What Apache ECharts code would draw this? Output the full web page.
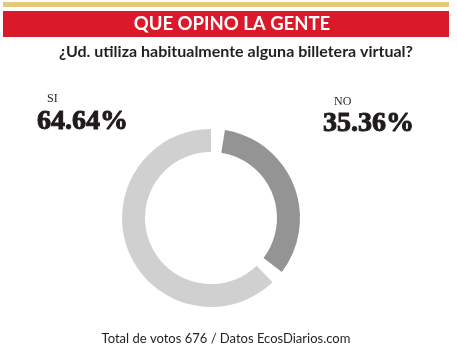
<!DOCTYPE html>
<html>
<head>
<meta charset="utf-8">
<script src="https://cdn.jsdelivr.net/npm/echarts@6/dist/echarts.min.js"></script>
<style>
html,body{margin:0;padding:0;background:#fff;}
#chart{width:457px;height:356px;}
</style>
</head>
<body>
<div id="chart"></div>
<script>
const headerTitle = 'QUE OPINO LA GENTE';
const question = '¿Ud. utiliza habitualmente alguna billetera virtual?';
const footer = 'Total de votos 676 / Datos EcosDiarios.com';
const categories = ['NO', 'SI'];
const values = [35.36, 64.64];
const colors = ['#949494', '#d0d0d0'];

const chart = echarts.init(document.getElementById('chart'));
const pct = v => v.toFixed(2) + '%';
const serif = '"Liberation Serif", serif';
const sans = 'Lato';
const txt = (x, y, text, size, weight, family, fill, align, stroke) => ({
  type: 'text', x: x, y: y,
  style: Object.assign({ text: text, fill: fill || '#231f20', fontSize: size, fontWeight: weight, fontFamily: family, textAlign: align || 'left', textVerticalAlign: 'middle' },
    stroke ? { stroke: fill || '#231f20', lineWidth: stroke } : {})
});

chart.setOption({
  animation: false,
  backgroundColor: '#ffffff',
  graphic: [
    { type: 'rect', shape: { x: 3, y: 2, width: 446, height: 5 }, style: { fill: '#e3c978' } },
    { type: 'rect', shape: { x: 3, y: 11, width: 446, height: 26 }, style: { fill: '#da1a2b' } },
    txt(232, 24, headerTitle, 18.5, 'bold', sans, '#ffffff', 'center'),
    txt(236, 52, question, 16, 'bold', sans, '#231f20', 'center'),
    txt(47, 99, categories[1], 12, 'normal', serif),
    txt(37, 122, pct(values[1]), 28, 'bold', serif, '#1f1b1c', 'left', 1),
    txt(334, 102, categories[0], 12, 'normal', serif),
    txt(323, 124, pct(values[0]), 28, 'bold', serif, '#1f1b1c', 'left', 1),
    txt(226, 339, footer, 13, 'normal', sans, '#231f20', 'center')
  ],
  series: [{
    type: 'pie',
    center: [211, 218],
    radius: [66, 89],
    startAngle: 85.5,
    clockwise: true,
    padAngle: 9,
    silent: true,
    label: { show: false },
    labelLine: { show: false },
    data: categories.map((c, i) => ({ name: c, value: values[i], itemStyle: { color: colors[i] } }))
  }]
});
</script>
</body>
</html>
